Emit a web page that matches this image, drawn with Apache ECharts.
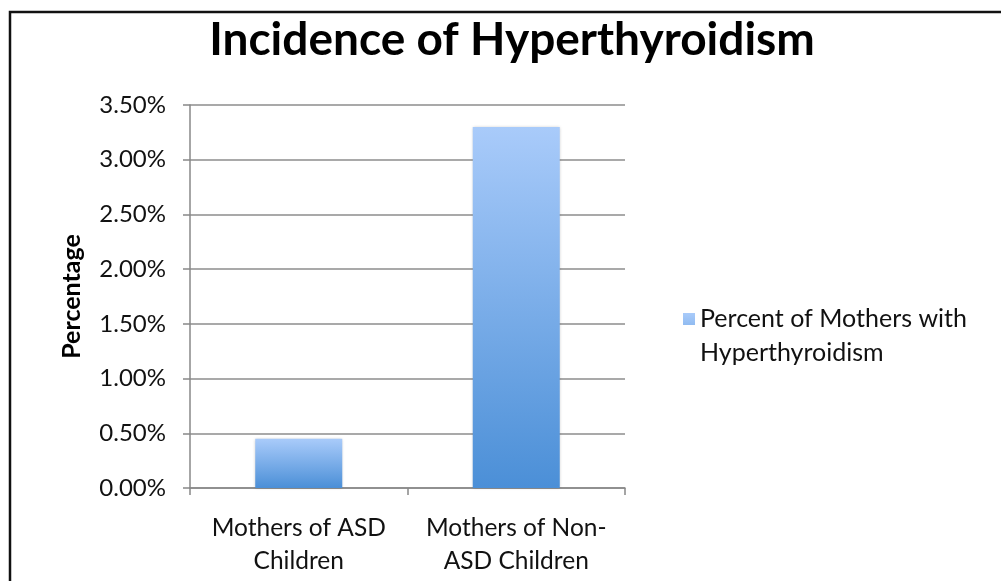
<!DOCTYPE html>
<html><head><meta charset="utf-8">
<script src="https://cdn.jsdelivr.net/npm/echarts@6/dist/echarts.min.js"></script>
<style>html,body{margin:0;padding:0;background:#fff}#c{width:1001px;height:581px}</style>
</head><body><div id="c"></div>
<script>
const categories = ['Mothers of ASD\nChildren', 'Mothers of Non-\nASD Children'];
const seriesName = 'Percent of Mothers with\nHyperthyroidism';
const values = [0.45, 3.30];
const yTicks = [0, 0.5, 1, 1.5, 2, 2.5, 3, 3.5];

const chart = echarts.init(document.getElementById('c'));
const F = 'Lato, "Open Sans", sans-serif';
chart.setOption({
  animation: false,
  backgroundColor: '#fff',
  graphic: [{type:'rect', shape:{x:10,y:12,width:1100,height:700}, style:{fill:'none', stroke:'#111', lineWidth:2.5}, z:-1}],
  title: {text:'Incidence of Hyperthyroidism', left:507, textAlign:'center', top:12,
    textStyle:{fontFamily:F, fontWeight:'bold', fontSize:46, color:'#000'}},
  legend: {left:678, top:297, orient:'vertical', itemWidth:12, itemHeight:46, itemGap:0,
    icon:'path://M0,0L12,0L12,12L0,12Z M0,46L0.01,46L0,46.01Z',
    textStyle:{fontFamily:F, fontSize:25, color:'#111', lineHeight:34},
    data:[seriesName]},
  grid: {left:190, right:376, top:105, bottom:93},
  xAxis: {type:'category', data:categories,
    axisLine:{lineStyle:{color:'#888', width:1.5}},
    axisTick:{show:true, length:7, lineStyle:{color:'#888', width:1.5}},
    axisLabel:{interval:0, fontFamily:F, fontSize:24.5, color:'#111', margin:24, lineHeight:33}},
  yAxis: {type:'value', min:yTicks[0], max:yTicks[yTicks.length-1], interval:0.5,
    name:'Percentage', nameLocation:'middle', nameGap:106,
    nameTextStyle:{fontFamily:F, fontWeight:'bold', fontSize:25, color:'#000'},
    axisLine:{show:true, lineStyle:{color:'#888', width:1.5}},
    axisTick:{show:true, inside:false, length:7, lineStyle:{color:'#888', width:1.5}},
    splitLine:{lineStyle:{color:'#8c8c8c', width:1.5}},
    axisLabel:{fontFamily:F, fontSize:24, color:'#111', margin:24,
      formatter:v=>v.toFixed(2)+'%'}},
  series: [{type:'bar', name:seriesName, data:values, barWidth:'40%',
    itemStyle:{color:new echarts.graphic.LinearGradient(0,0,0,1,[{offset:0,color:'#a9cbfa'},{offset:1,color:'#4b8fd7'}]),
      shadowColor:'rgba(0,0,0,0.25)', shadowBlur:3}}]
});
</script></body></html>
